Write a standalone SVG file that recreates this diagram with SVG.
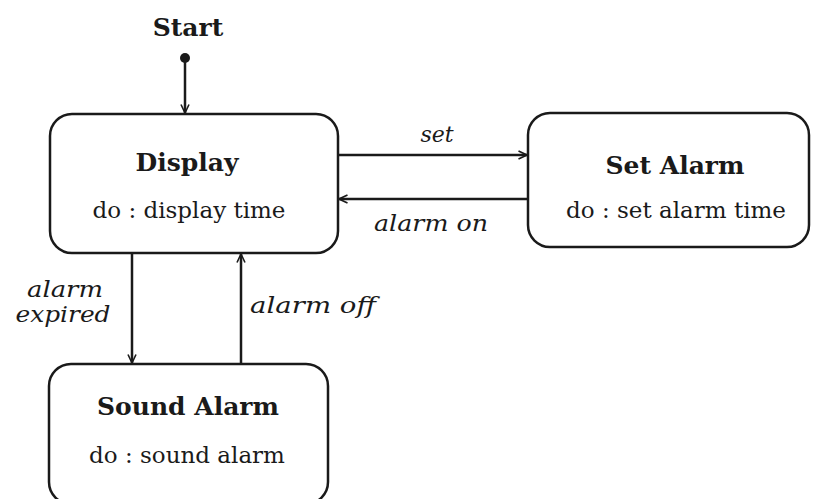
<svg xmlns="http://www.w3.org/2000/svg" width="823" height="499" viewBox="0 0 823 499">
<defs>
<style>
.box{fill:#fff;stroke:#1a1a1a;stroke-width:2.5}
.ln{fill:none;stroke:#1a1a1a;stroke-width:2.5}
.t{font-family:"DejaVu Serif","Liberation Serif",serif;fill:#1a1a1a;text-anchor:middle}
.b{font-weight:bold;font-size:25px}
.r{font-size:23px}
.i{font-style:italic;font-size:22px}
</style>
<marker id="ah" viewBox="0 0 10 10" refX="9.5" refY="5" markerWidth="10" markerHeight="10" markerUnits="userSpaceOnUse" orient="auto">
<path d="M1,1 L9.5,5 L1,9" fill="none" stroke="#1a1a1a" stroke-width="1.6"/>
</marker>
</defs>
<rect width="823" height="499" fill="#fff"/>
<g id="start">
<text class="t b" x="188" y="36">Start</text>
<circle cx="185" cy="58" r="5" fill="#1a1a1a"/>
</g>
<g id="display">
<rect class="box" x="50" y="114" width="288" height="139" rx="22" ry="22"/>
<text class="t b" x="187" y="171">Display</text>
<text class="t r" x="189" y="218">do : display time</text>
</g>
<g id="setalarm">
<rect class="box" x="528" y="113" width="281" height="134" rx="22" ry="22"/>
<text class="t b" x="675" y="174">Set Alarm</text>
<text class="t r" x="676" y="218">do : set alarm time</text>
</g>
<g id="soundalarm">
<rect class="box" x="49" y="364" width="279" height="140" rx="22" ry="22"/>
<text class="t b" x="188" y="415">Sound Alarm</text>
<text class="t r" x="187" y="463">do : sound alarm</text>
</g>
<g id="connectors">
<line class="ln" x1="185" y1="58" x2="185" y2="113" marker-end="url(#ah)"/>
<line class="ln" x1="339" y1="155" x2="527" y2="155" marker-end="url(#ah)"/>
<line class="ln" x1="527" y1="199" x2="339" y2="199" marker-end="url(#ah)"/>
<line class="ln" x1="132" y1="254" x2="132" y2="363" marker-end="url(#ah)"/>
<line class="ln" x1="241" y1="363" x2="241" y2="254" marker-end="url(#ah)"/>
<text class="t i" x="437" y="142">set</text>
<text class="t i" x="431" y="231" textLength="114" lengthAdjust="spacingAndGlyphs">alarm on</text>
<text class="t i" x="65" y="297" textLength="76" lengthAdjust="spacingAndGlyphs">alarm</text>
<text class="t i" x="63" y="322" textLength="95" lengthAdjust="spacingAndGlyphs">expired</text>
<text class="t i" x="313" y="313" textLength="126" lengthAdjust="spacingAndGlyphs">alarm off</text>
</g>
</svg>
